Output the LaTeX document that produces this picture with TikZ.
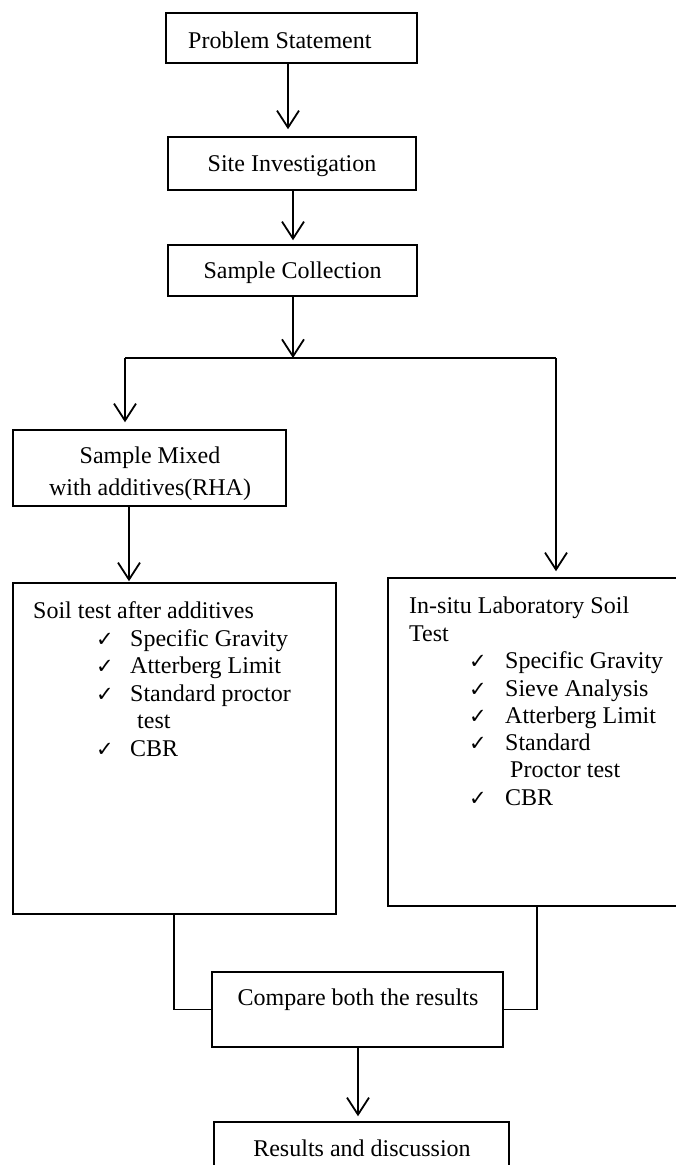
\documentclass[tikz,border=0pt]{standalone}
\usepackage{fontspec}
\setmainfont{Liberation Serif}
\newfontfamily\chk{DejaVu Sans}
\usetikzlibrary{arrows.meta}
\newcommand{\ck}{{\chk\fontsize{21}{21}\selectfont ✓}}
\begin{document}
\begin{tikzpicture}[x=1pt,y=-1pt,
  box/.style={draw=black,line width=1.5pt,rectangle,inner sep=0pt},
  txt/.style={inner sep=0pt,font=\fontsize{24}{27.5}\selectfont},
  arr/.style={line width=1.8pt,-{Straight Barb[length=17pt,width=22pt,line width=1.8pt]}},
  ln/.style={line width=1.6pt}]
\useasboundingbox (0,0) rectangle (676,1165);
% boxes
\node[box,minimum width=251pt,minimum height=50pt] (ps) at (291.5,38) {};
\node[box,minimum width=248pt,minimum height=53pt] (si) at (292,163.5) {};
\node[box,minimum width=249pt,minimum height=51pt] (sc) at (292.5,270.5) {};
\node[box,minimum width=273pt,minimum height=76pt] (sm) at (149.5,468) {};
\node[box,minimum width=323pt,minimum height=331pt] (lb) at (174.5,748.5) {};
\node[box,minimum width=302pt,minimum height=328pt] (rb) at (539,742) {};
\node[box,minimum width=291pt,minimum height=75pt] (cb) at (357.5,1009.5) {};
\node[box,minimum width=295pt,minimum height=53pt] (rd) at (361.5,1148.5) {};
% texts
\node[txt,anchor=base west] (pst) at (188,48) {Problem Statement};
\node[txt,anchor=base] (sit) at (292,171) {Site Investigation};
\node[txt,anchor=base] (sct) at (292.5,278) {Sample Collection};
\node[txt,anchor=base] (smt1) at (150,463) {Sample Mixed};
\node[txt,anchor=base] (smt2) at (150,495) {with additives(RHA)};
% left list
\node[txt,anchor=base west] (lbt) at (33,618) {Soil test after additives};
\node[txt,anchor=base west] (lc1) at (96,646) {\ck};
\node[txt,anchor=base west] (li1) at (130,646) {Specific Gravity};
\node[txt,anchor=base west] (lc2) at (96,673) {\ck};
\node[txt,anchor=base west] (li2) at (130,673) {Atterberg Limit};
\node[txt,anchor=base west] (lc3) at (96,701) {\ck};
\node[txt,anchor=base west] (li3) at (130,701) {Standard proctor};
\node[txt,anchor=base west] (li3b) at (137,728) {test};
\node[txt,anchor=base west] (lc4) at (96,756) {\ck};
\node[txt,anchor=base west] (li4) at (130,756) {CBR};
% right list
\node[txt,anchor=base west] (rbt1) at (409,613) {In-situ Laboratory Soil};
\node[txt,anchor=base west] (rbt2) at (409,641) {Test};
\node[txt,anchor=base west] (rc1) at (469,668) {\ck};
\node[txt,anchor=base west] (ri1) at (505,668) {Specific Gravity};
\node[txt,anchor=base west] (rc2) at (469,696) {\ck};
\node[txt,anchor=base west] (ri2) at (505,696) {Sieve Analysis};
\node[txt,anchor=base west] (rc3) at (469,723) {\ck};
\node[txt,anchor=base west] (ri3) at (505,723) {Atterberg Limit};
\node[txt,anchor=base west] (rc4) at (469,750) {\ck};
\node[txt,anchor=base west] (ri4) at (505,750) {Standard};
\node[txt,anchor=base west] (ri4b) at (510,777) {Proctor test};
\node[txt,anchor=base west] (rc5) at (469,805) {\ck};
\node[txt,anchor=base west] (ri5) at (505,805) {CBR};
\node[txt,anchor=base] (cbt) at (358,1005) {Compare both the results};
\node[txt,anchor=base] (rdt) at (362,1156) {Results and discussion};
% connectors
\draw[arr,shorten >=7pt] ([xshift=-3.5pt]ps.south) -- ([xshift=-3.5pt]ps.south |- si.north);
\draw[arr,shorten >=4pt] ([xshift=1pt]si.south) -- ([xshift=1pt]si.south |- sc.north);
\coordinate (j) at (293,358);
\coordinate (jl) at (125,358);
\coordinate (jr) at (556,358);
\draw[arr] ([xshift=0.5pt]sc.south) -- (j);
\draw[ln] (jl) -- (jr);
\draw[arr,shorten >=7pt] (jl) -- (jl |- sm.north);
\draw[arr,shorten >=6pt] (jr) -- (jr |- rb.north);
\draw[arr,shorten >=1pt] ([xshift=-20.5pt]sm.south) -- ([xshift=-20.5pt]sm.south |- lb.north);
\draw[ln] ([xshift=-0.5pt]lb.south) |- (cb.west);
\draw[ln] ([xshift=-2pt]rb.south) |- (cb.east);
\draw[arr,shorten >=5pt] ([xshift=0.5pt]cb.south) -- ([xshift=0.5pt]cb.south |- rd.north);
\end{tikzpicture}
\end{document}
